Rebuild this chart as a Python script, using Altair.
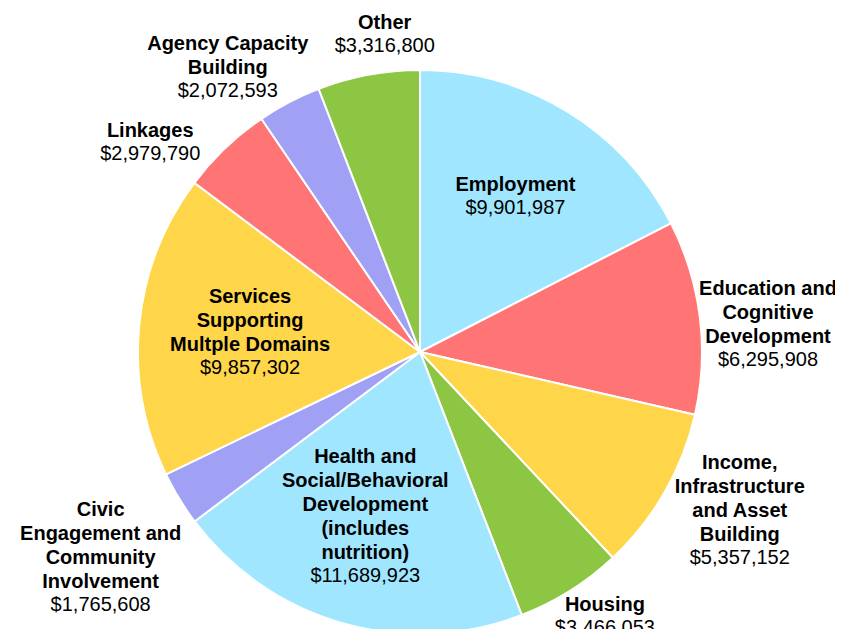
import math
import altair as alt
import pandas as pd

# ---- data ----
categories = [
    "Employment", "Education and Cognitive Development",
    "Income, Infrastructure and Asset Building", "Housing",
    "Health and Social/Behavioral Development (includes nutrition)",
    "Civic Engagement and Community Involvement",
    "Services Supporting Multple Domains", "Linkages",
    "Agency Capacity Building", "Other",
]
label_names = [
    "Employment",
    "Education and\nCognitive\nDevelopment",
    "Income,\nInfrastructure\nand Asset\nBuilding",
    "Housing",
    "Health and\nSocial/Behavioral\nDevelopment\n(includes\nnutrition)",
    "Civic\nEngagement and\nCommunity\nInvolvement",
    "Services\nSupporting\nMultple Domains",
    "Linkages",
    "Agency Capacity\nBuilding",
    "Other",
]
amounts = [9901987, 6295908, 5357152, 3466053, 11689923,
           1765608, 9857302, 2979790, 2072593, 3316800]
colors = ["#A0E6FF", "#FF7575", "#FFD54A", "#8DC643", "#A0E6FF",
          "#A0A0F5", "#FFD54A", "#FF7575", "#A0A0F5", "#8DC643"]

# ---- label layout (pixels / degrees) ----
label_radius = [183, 348, 374, 322, 219, 400, 170, 342, 334, 320]
label_nudge_deg = [0, 6.5, 1.4, -2.9, -1.5, -5.7, -6.9, -8.4, -7.5, 4.2]
LINE_H = 24

total = sum(amounts)
cum = 0
mids = []
for a in amounts:
    mids.append((cum + a / 2) / total * 2 * math.pi)
    cum += a

df = pd.DataFrame({
    "idx": list(range(len(categories))),
    "category": categories,
    "amount": amounts,
    "name": label_names,
    "nlines": [n.count("\n") + 1 for n in label_names],
    "value_label": [f"${a:,}" for a in amounts],
    "lr": label_radius,
    "ta": [m + math.radians(n) for m, n in zip(mids, label_nudge_deg)],
})

base = alt.Chart(df)

pie = base.mark_arc(radius=282, stroke="white", strokeWidth=2).encode(
    theta=alt.Theta("amount:Q", stack=True),
    color=alt.Color("category:N", scale=alt.Scale(domain=categories, range=colors), legend=None),
    order=alt.Order("idx:Q"),
)

name_layers = []
for n in sorted(set(df["nlines"])):
    name_layers.append(
        base.transform_filter(alt.datum.nlines == n).mark_text(
            font="Liberation Sans", fontSize=20, fontWeight="bold", baseline="bottom",
            lineBreak="\n", lineHeight=LINE_H, color="black", dy=-1 - (n - 1) * LINE_H,
        ).encode(
            theta=alt.Theta("ta:Q", scale=None),
            radius=alt.Radius("lr:Q", scale=None),
            text="name:N",
        )
    )

values = base.mark_text(
    font="Liberation Sans", fontSize=20, baseline="top", color="black", dy=2,
).encode(
    theta=alt.Theta("ta:Q", scale=None),
    radius=alt.Radius("lr:Q", scale=None),
    text="value_label:N",
)

chart = alt.layer(pie, *name_layers, values).resolve_scale(theta="independent").properties(
    width=800, height=554,
    autosize=alt.AutoSizeParams(type="none"),
    padding={"left": 12, "top": 67, "right": 15, "bottom": 0},
).configure_view(stroke=None)

chart.save("out.html", embed_options={"renderer": "svg", "actions": False})
